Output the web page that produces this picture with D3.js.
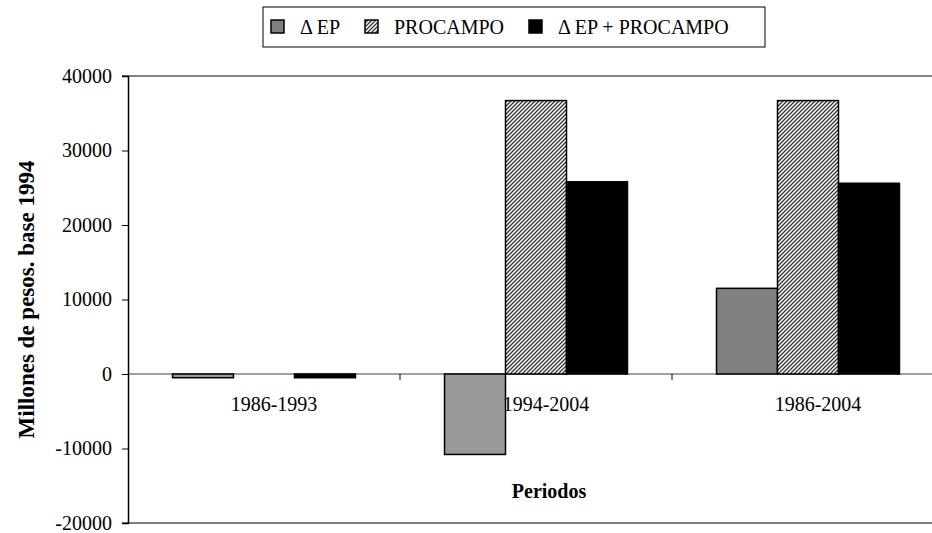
<!DOCTYPE html>
<html>
<head>
<meta charset="utf-8">
<script src="https://cdn.jsdelivr.net/npm/d3@7"></script>
<style>
  html, body { margin: 0; padding: 0; background: #fff; }
  svg { display: block; font-family: "Liberation Serif", "DejaVu Serif", serif; }
</style>
</head>
<body>
<div id="chart"></div>
<script>
// ---- data ----
const periods = ['1986-1993', '1994-2004', '1986-2004'];
const seriesNames = ['\u0394 EP', 'PROCAMPO', '\u0394 EP + PROCAMPO'];
const deltaEP = [-500, -10800, 11500];
const procampo = [0, 36700, 36700];
const deltaEPplusProcampo = [-500, 25800, 25600];
const yTicks = [-20000, -10000, 0, 10000, 20000, 30000, 40000];

const seriesValues = [deltaEP, procampo, deltaEPplusProcampo];

function drawChart() {
  const W = 932, H = 533;
  const margin = { top: 76, right: -12, bottom: 10, left: 128 };
  const plotW = W - margin.left - margin.right;
  const plotH = H - margin.top - margin.bottom;

  const svg = d3.select('#chart').append('svg').attr('width', W).attr('height', H);
  svg.append('rect').attr('width', W).attr('height', H).attr('fill', '#fff');

  // hatch pattern for PROCAMPO
  const defs = svg.append('defs');
  const pat = defs.append('pattern').attr('id', 'hatch')
    .attr('patternUnits', 'userSpaceOnUse').attr('width', 4).attr('height', 4);
  pat.append('rect').attr('width', 4).attr('height', 4).attr('fill', '#fff');
  pat.append('path').attr('d', 'M-1,1 l2,-2 M0,4 l4,-4 M3,5 l2,-2')
    .attr('stroke', '#333').attr('stroke-width', 1.3);

  const fills = ['#999', 'url(#hatch)', '#000'];

  const g = svg.append('g').attr('transform', `translate(${margin.left},${margin.top})`);

  const x0 = d3.scaleBand().domain(periods).range([0, plotW]).paddingInner(0).paddingOuter(0);
  const x1 = d3.scaleBand().domain(d3.range(seriesNames.length)).range([0, x0.bandwidth()])
    .paddingInner(0).paddingOuter(0.73);
  const y = d3.scaleLinear().domain([-20000, 40000]).range([plotH, 0]);

  // plot frame (top / bottom gray)
  g.append('line').attr('x1', -6).attr('x2', plotW).attr('y1', 0).attr('y2', 0)
    .attr('stroke', '#808080').attr('stroke-width', 2);
  g.append('line').attr('x1', -6).attr('x2', plotW).attr('y1', plotH).attr('y2', plotH)
    .attr('stroke', '#808080').attr('stroke-width', 2);

  // zero line
  g.append('line').attr('x1', 0).attr('x2', plotW).attr('y1', y(0)).attr('y2', y(0))
    .attr('stroke', '#808080').attr('stroke-width', 1.5);

  // bars
  const groups = g.selectAll('.grp').data(periods).enter().append('g')
    .attr('transform', d => `translate(${x0(d)},0)`);
  groups.selectAll('rect')
    .data((p, i) => seriesValues.map((vals, s) => ({ s, v: vals[i], i })).filter(d => d.v !== 0))
    .enter().append('rect')
    .attr('x', d => x1(d.s))
    .attr('width', x1.bandwidth())
    .attr('y', d => y(Math.max(0, d.v)))
    .attr('height', d => Math.abs(y(d.v) - y(0)))
    .attr('fill', d => (d.s === 0 && d.i === 2) ? '#808080' : fills[d.s])
    .attr('stroke', '#000').attr('stroke-width', 1.5);

  // category ticks on zero line
  g.append('g').selectAll('line').data(periods.slice(1)).enter().append('line')
    .attr('x1', d => x0(d)).attr('x2', d => x0(d))
    .attr('y1', y(0)).attr('y2', y(0) + 6)
    .attr('stroke', '#000').attr('stroke-width', 1);

  // category labels
  g.append('g').selectAll('text').data(periods).enter().append('text')
    .attr('x', d => x0(d) + x0.bandwidth() / 2 + 10)
    .attr('y', y(0) + 37)
    .attr('text-anchor', 'middle')
    .style('font-size', '20px').style('fill', '#000')
    .text(d => d);

  // y axis (plain hyphen for negatives, as in the original)
  const yAxis = g.append('g').call(d3.axisLeft(y).tickValues(yTicks).tickSize(6).tickPadding(10).tickFormat(d => String(d)));
  yAxis.select('.domain').attr('stroke', '#000').attr('stroke-width', 1.5);
  yAxis.selectAll('.tick line').attr('stroke', '#000');
  yAxis.selectAll('text').style('font-size', '20px').style('fill', '#000')
    .style('font-family', '"Liberation Serif", serif');

  // axis titles
  svg.append('text')
    .attr('transform', `translate(34,${margin.top + y(10000)}) rotate(-90)`)
    .attr('text-anchor', 'middle')
    .style('font-size', '23px').style('font-weight', 'bold')
    .text('Millones de pesos. base 1994');

  svg.append('text')
    .attr('x', 549).attr('y', 498)
    .attr('text-anchor', 'middle')
    .style('font-size', '20px').style('font-weight', 'bold')
    .text('Periodos');

  // legend
  const lg = svg.append('g').attr('transform', 'translate(263,7)');
  lg.append('rect').attr('width', 502).attr('height', 40)
    .attr('fill', '#fff').attr('stroke', '#000').attr('stroke-width', 1);
  const legX = [8, 102, 266];
  const item = lg.selectAll('.item').data(seriesNames).enter().append('g')
    .attr('transform', (d, i) => `translate(${legX[i]},0)`);
  item.append('rect').attr('x', 0).attr('y', 13).attr('width', 13).attr('height', 13)
    .attr('fill', (d, i) => i === 0 ? '#808080' : fills[i])
    .attr('stroke', '#000').attr('stroke-width', 1.5);
  item.append('text').attr('x', 29).attr('y', 27)
    .style('font-size', '20px').text(d => d);
}

drawChart();
</script>
</body>
</html>
